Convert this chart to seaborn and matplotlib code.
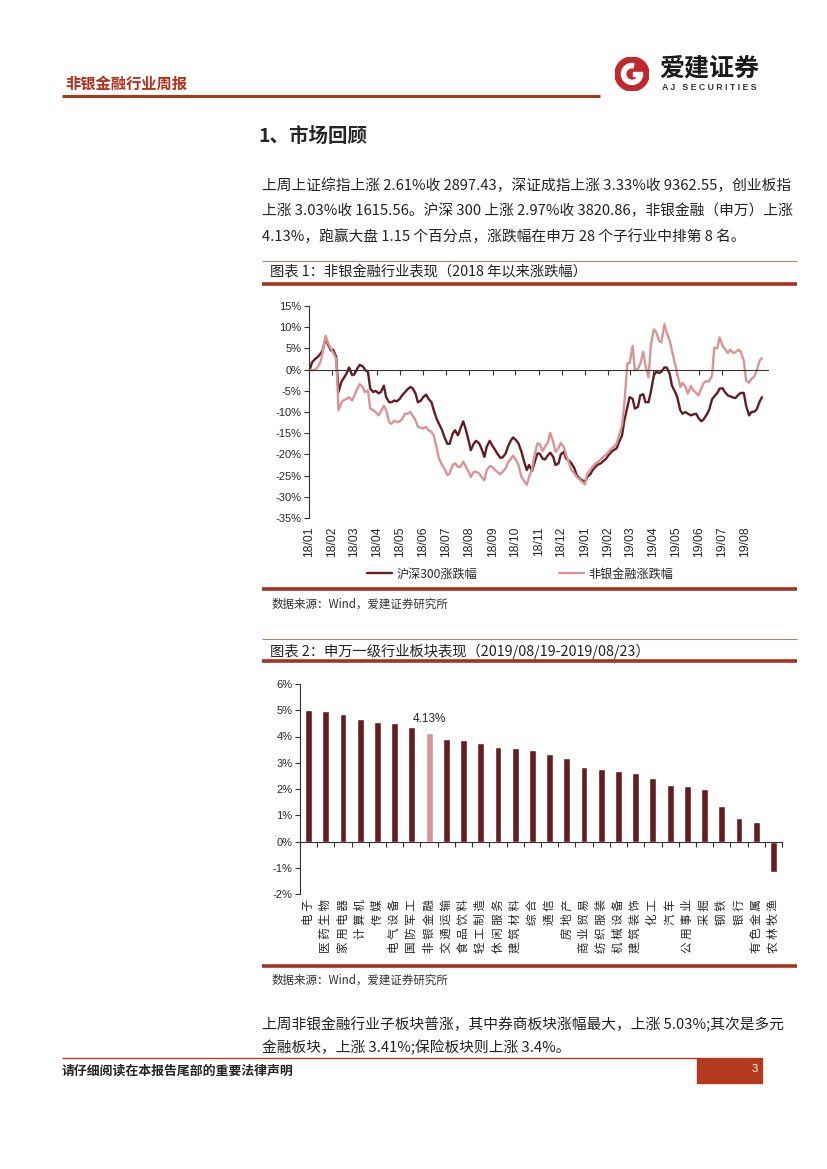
import numpy as np
import pandas as pd
import matplotlib
matplotlib.use("Agg")
import matplotlib.pyplot as plt
import matplotlib.dates as mdates
from matplotlib.lines import Line2D
from matplotlib.patches import Rectangle, Circle, Wedge
from matplotlib.ticker import FuncFormatter
import seaborn as sns

sns.set_style("white")
plt.rcParams["font.family"] = ["Noto Sans CJK SC", "DejaVu Sans"]
plt.rcParams["axes.unicode_minus"] = False

W, H = 827, 1169
DARK = "#641E22"
PINK = "#D99496"
RED = "#A8321E"
NUM_FONT = "Liberation Sans"

# ── Data: chart 1 (twice a week, Tue/Fri, cumulative change since 2018, %) ────
dates = pd.date_range("2018-01-02", "2019-08-20", freq="W-TUE").union(
    pd.date_range("2018-01-05", "2019-08-23", freq="W-FRI"))

# one row = five weeks, each week = (Tue, Fri)
hs300 = [
    0.0, 1.7, 2.5, 2.9, 3.7, 4.5, 7.4, 6.0, 4.5, 4.7,
    3.0, -5.3, -2.8, -2.0, -0.8, 0.5, -1.3, -1.1, 0.3, 1.1,
    0.8, 0.0, -0.6, -4.5, -5.3, -5.0, -5.6, -5.3, -3.8, -6.5,
    -7.7, -7.7, -7.3, -7.5, -6.9, -6.1, -5.3, -4.7, -4.1, -4.4,
    -5.7, -7.7, -7.3, -6.5, -5.9, -6.9, -7.7, -9.6, -11.7, -12.8,
    -14.3, -15.9, -17.5, -17.5, -15.1, -14.3, -15.5, -14.0, -12.2, -13.9,
    -16.7, -19.0, -17.4, -16.8, -17.4, -18.6, -20.6, -18.2, -16.8, -17.8,
    -18.9, -19.8, -20.8, -20.7, -19.8, -18.2, -16.7, -16.0, -16.7, -17.4,
    -19.4, -21.4, -23.7, -22.5, -23.9, -22.1, -19.8, -19.8, -21.0, -21.2,
    -20.2, -19.6, -20.6, -22.5, -22.1, -20.0, -19.4, -21.0, -21.5, -22.1,
    -23.3, -24.9, -25.7, -26.1, -26.4, -25.3, -24.7, -23.7, -22.9, -22.4,
    -22.1, -21.6, -21.0, -20.2, -19.4, -19.0, -18.5, -17.1, -15.5, -12.0,
    -8.8, -6.5, -6.9, -9.2, -8.8, -6.1, -5.8, -7.7, -7.7, -5.3,
    -1.4, -0.5, -0.8, -0.5, 0.5, 0.5, -1.0, -3.8, -5.2, -6.5,
    -9.6, -10.4, -10.0, -10.4, -10.8, -10.6, -10.4, -11.4, -12.2, -11.7,
    -10.6, -9.6, -7.0, -6.3, -5.5, -4.5, -4.4, -5.3, -6.1, -6.3,
    -6.6, -6.7, -5.9, -5.5, -5.5, -8.5, -10.8, -10.0, -9.9, -9.4,
    -7.5, -6.5,
]
nonbank = [
    0.0, -0.2, 0.0, 0.5, 1.7, 4.0, 8.0, 6.4, 4.9, 4.0,
    2.5, -9.6, -7.7, -7.2, -6.9, -6.5, -7.3, -6.1, -4.5, -3.4,
    -4.1, -5.3, -4.9, -9.2, -9.6, -10.0, -10.8, -9.9, -8.5, -9.5,
    -12.4, -12.8, -12.0, -12.4, -12.2, -11.7, -10.4, -10.4, -10.0, -10.8,
    -12.0, -13.5, -13.7, -13.9, -13.5, -14.3, -14.7, -15.5, -18.6, -21.0,
    -22.5, -23.3, -24.9, -24.5, -22.5, -22.1, -22.9, -23.0, -21.7, -22.8,
    -24.1, -25.3, -24.1, -24.1, -24.5, -25.3, -26.1, -23.7, -22.8, -22.9,
    -23.7, -24.1, -24.7, -24.1, -23.3, -22.0, -21.0, -20.3, -21.4, -22.5,
    -25.3, -26.1, -27.2, -25.3, -23.5, -20.5, -17.4, -17.5, -19.2, -18.2,
    -17.1, -14.9, -17.1, -19.4, -18.5, -17.3, -18.2, -20.2, -22.1, -23.7,
    -24.5, -25.3, -25.9, -26.4, -27.1, -24.5, -23.7, -22.9, -22.1, -21.8,
    -21.1, -20.6, -20.0, -19.4, -18.6, -18.2, -17.4, -15.5, -13.1, -8.0,
    1.5, 1.5, 5.6, -0.2, 0.2, 1.3, 4.2, 0.9, -1.8, 5.6,
    9.5, 8.9, 6.8, 6.4, 10.7, 8.8, 6.8, 4.5, 1.3, -1.0,
    -4.1, -3.1, -4.1, -5.7, -3.9, -4.9, -5.5, -6.1, -4.4, -3.1,
    -2.7, -2.8, -1.4, 5.2, 5.0, 7.6, 5.6, 4.9, 3.9, 4.7,
    3.9, 4.1, 4.7, 4.2, 2.1, -2.6, -3.1, -2.2, -1.6, -0.2,
    2.1, 2.7,
]
series_names = ["沪深300涨跌幅", "非银金融涨跌幅"]

# ── Data: chart 2 (weekly change by SW industry, %) ───────────────────────────
industries = ["电子", "医药生物", "家用电器", "计算机", "传媒", "电气设备", "国防军工",
              "非银金融", "交通运输", "食品饮料", "轻工制造", "休闲服务", "建筑材料", "综合",
              "通信", "房地产", "商业贸易", "纺织服装", "机械设备", "建筑装饰", "化工",
              "汽车", "公用事业", "采掘", "钢铁", "银行", "有色金属", "农林牧渔"]
changes = [5.00, 4.99, 4.84, 4.66, 4.55, 4.53, 4.37,
           4.13, 3.91, 3.88, 3.74, 3.60, 3.56, 3.48,
           3.33, 3.18, 2.82, 2.76, 2.68, 2.62, 2.41,
           2.14, 2.10, 1.99, 1.34, 0.90, 0.76, -1.18]
highlight = "非银金融"

# ── Helpers ──────────────────────────────────────────────────────────────────

fig = plt.figure(figsize=(W / 100, H / 100), dpi=100)
fig.patch.set_facecolor("white")


def fx(x):
    return x / W


def fy(y):
    return 1 - y / H


def text(x, y, s, **kw):
    kw.setdefault("va", "center")
    fig.text(fx(x), fy(y), s, **kw)


def hline(x0, x1, y, color, lw):
    fig.add_artist(Line2D([fx(x0), fx(x1)], [fy(y), fy(y)], color=color, lw=lw,
                          transform=fig.transFigure, solid_capstyle="butt"))


def style_axes(ax):
    for s in ["top", "right"]:
        ax.spines[s].set_visible(False)
    ax.spines["bottom"].set_position(("data", 0))
    for s in ["bottom", "left"]:
        ax.spines[s].set_color("#333333")
        ax.spines[s].set_linewidth(0.8)
    ax.set_xlabel("")
    ax.set_ylabel("")
    ax.yaxis.set_major_formatter(pct)
    ax.tick_params(axis="x", direction="out", length=3.5, width=0.8, color="#333333",
                   labelbottom=False, bottom=True)
    ax.tick_params(axis="y", direction="out", length=3.5, width=0.8, color="#333333",
                   left=True, labelsize=8, labelfontfamily=NUM_FONT, pad=2)


pct = FuncFormatter(lambda v, _: f"{v:.0f}%")

# ── Page header ──────────────────────────────────────────────────────────────
text(65, 84, "非银金融行业周报", color="#B5301A", fontsize=11, fontweight="bold")
hline(62, 600, 96, "#A83A1C", 2.2)

logo = fig.add_axes([fx(632 - 17), fy(74 + 17), 34 / W, 34 / H])
logo.set_xlim(-1, 1)
logo.set_ylim(-1, 1)
logo.axis("off")
logo.add_patch(Circle((0, 0), 1, color="#C0282D"))
logo.add_patch(Wedge((0, 0), 0.62, 80, 350, width=0.25, color="white"))
logo.add_patch(Rectangle((0.05, -0.1), 0.55, 0.22, color="white"))
text(659, 69, "爱建证券", fontsize=18, fontweight="bold", color="#1a1a1a")
text(662, 88, "A J   S E C U R I T I E S", fontsize=6.3, fontweight="bold",
     color="#333333", family=NUM_FONT)

# ── Section text ─────────────────────────────────────────────────────────────
text(258, 137, "1、市场回顾", fontsize=14, fontweight="bold")
para1 = ["上周上证综指上涨 2.61%收 2897.43，深证成指上涨 3.33%收 9362.55，创业板指",
         "上涨 3.03%收 1615.56。沪深 300 上涨 2.97%收 3820.86，非银金融（申万）上涨",
         "4.13%，跑赢大盘 1.15 个百分点，涨跌幅在申万 28 个子行业中排第 8 名。"]
for i, line in enumerate(para1):
    text(262, 186 + i * 25, line, fontsize=10.6, color="#222222")

# ── Chart 1 ──────────────────────────────────────────────────────────────────
hline(262, 797, 261, "#B98070", 0.8)
text(270, 272, "图表 1：非银金融行业表现（2018 年以来涨跌幅）", fontsize=10.3, color="#222222")
hline(262, 797, 284, RED, 2.6)

ax1 = fig.add_axes([fx(309), fy(518), (768 - 309) / W, 212 / H])
long = pd.DataFrame({"date": dates, series_names[0]: hs300, series_names[1]: nonbank}) \
    .melt(id_vars="date", var_name="series", value_name="value")
sns.lineplot(data=long, x="date", y="value", hue="series", hue_order=series_names,
             palette=[DARK, PINK], linewidth=1.7, ax=ax1)
ax1.set_xlim(pd.Timestamp("2018-01-01"), pd.Timestamp("2019-08-31"))
ax1.set_ylim(-35, 15)
ax1.set_yticks(range(-35, 16, 5))
ax1.xaxis.set_major_locator(mdates.MonthLocator())
style_axes(ax1)
sec1 = ax1.secondary_xaxis("bottom")
sec1.xaxis.set_major_locator(mdates.MonthLocator())
sec1.xaxis.set_major_formatter(mdates.DateFormatter("%y/%m"))
sec1.tick_params(length=0, labelrotation=90, labelsize=8.7, labelfontfamily=NUM_FONT, pad=6)
sec1.spines["bottom"].set_visible(False)

handles, labels = ax1.get_legend_handles_labels()
ax1.legend(handles, labels, loc="center", bbox_to_anchor=(fx(520), fy(574)),
           bbox_transform=fig.transFigure, ncol=2, frameon=False, fontsize=8.7,
           handlelength=2.1, columnspacing=6.8, handletextpad=0.3)

hline(262, 797, 589, RED, 2.6)
text(272, 604, "数据来源：Wind，爱建证券研究所", fontsize=8.3, color="#333333")

# ── Chart 2 ──────────────────────────────────────────────────────────────────
hline(262, 797, 639, "#B98070", 0.8)
text(270, 651, "图表 2：申万一级行业板块表现（2019/08/19-2019/08/23）", fontsize=10.3,
     color="#222222")
hline(262, 797, 661, RED, 2.6)

ax2 = fig.add_axes([fx(300), fy(894), 482 / W, 210 / H])
bar_colors = [PINK if c == highlight else DARK for c in industries]
sns.barplot(x=industries, y=changes, hue=industries, palette=bar_colors, width=0.4,
            saturation=1, legend=False, ax=ax2)
ax2.set_xlim(-0.5, len(industries) - 0.5)
ax2.set_ylim(-2, 6)
ax2.set_yticks(range(-2, 7))
ax2.set_xticks(np.arange(len(industries) + 1) - 0.5)
style_axes(ax2)
sec2 = ax2.secondary_xaxis("bottom")
sec2.set_xticks(range(len(industries)), labels=[" ".join(c) for c in industries])
sec2.tick_params(length=0, labelrotation=90, labelsize=8.3, pad=4)
sec2.spines["bottom"].set_visible(False)

hi = industries.index(highlight)
ax2.text(hi, changes[hi] + 0.3, f"{changes[hi]:.2f}%", ha="center", va="bottom",
         fontsize=8.5, family=NUM_FONT)

hline(262, 797, 966, RED, 2.6)
text(272, 980, "数据来源：Wind，爱建证券研究所", fontsize=8.3, color="#333333")

para2 = ["上周非银金融行业子板块普涨，其中券商板块涨幅最大，上涨 5.03%;其次是多元",
         "金融板块，上涨 3.41%;保险板块则上涨 3.4%。"]
for i, line in enumerate(para2):
    text(262, 1024 + i * 24, line, fontsize=10.6, color="#222222")

# ── Footer ───────────────────────────────────────────────────────────────────
hline(62, 697, 1058, "#B03A1E", 1.0)
fig.add_artist(Rectangle((fx(697), fy(1083)), 65 / W, 25 / H, color="#B33A1D",
                         transform=fig.transFigure))
text(752, 1069, "3", color="white", fontsize=8, family=NUM_FONT)
text(62, 1071, "请仔细阅读在本报告尾部的重要法律声明", fontsize=9.3, fontweight="bold")

fig.savefig("out.png", dpi=100, facecolor="white")
